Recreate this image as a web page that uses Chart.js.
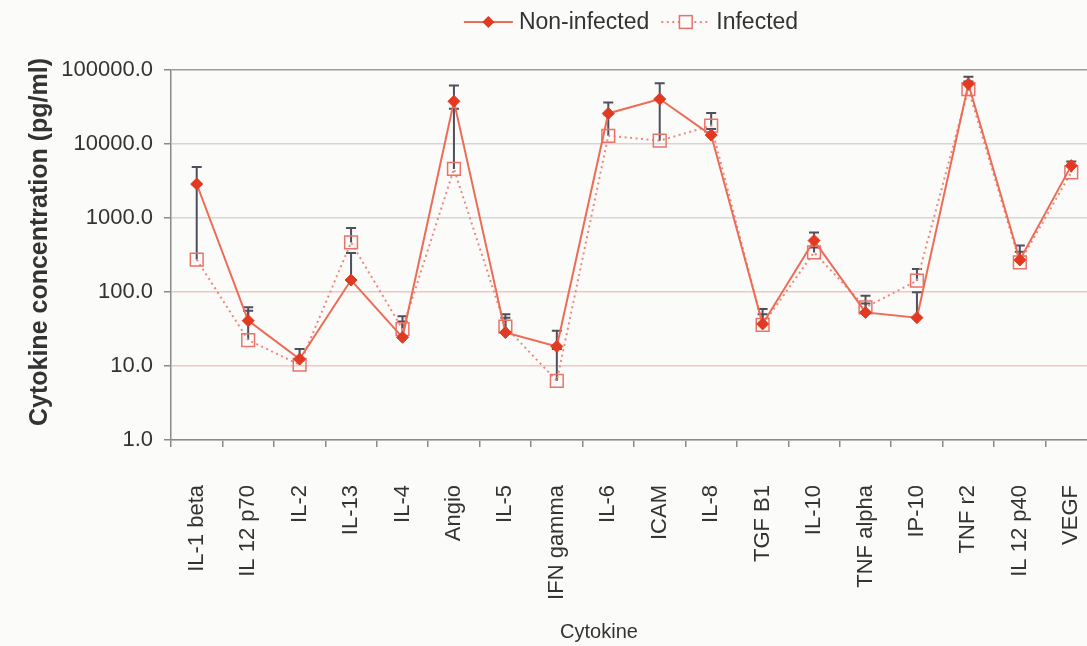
<!DOCTYPE html>
<html>
<head>
<meta charset="utf-8">
<title>Cytokine concentration</title>
<script src="https://cdn.jsdelivr.net/npm/chart.js@4.4.1/dist/chart.umd.min.js"></script>
<style>
html, body { margin: 0; padding: 0; overflow: hidden; background: #fbfbf9; }
#clip { width: 1087px; height: 646px; overflow: hidden; position: relative; }
#chart { display: block; position: absolute; left: 0; top: 0; }
</style>
</head>
<body>
<div id="clip"><canvas id="chart" width="1097" height="646"></canvas></div>
<script>

// cytokines measured in wound fluid
const cytokines = ["IL-1 beta", "IL 12 p70", "IL-2", "IL-13", "IL-4", "Angio", "IL-5", "IFN gamma", "IL-6",
  "ICAM", "IL-8", "TGF B1", "IL-10", "TNF alpha", "IP-10", "TNF r2", "IL 12 p40", "VEGF"]

// mean concentrations, pg/ml
const nonInfected = [2880, 41, 12.4, 145, 24.4, 37700, 28.4, 18.4, 25900, 40500, 13200, 37, 495, 53, 45, 64700, 271, 5100]
const infected = [274, 22.4, 10.4, 468, 31.6, 4600, 34, 6.3, 12900, 11100, 17700, 36, 343, 62, 142, 55000, 251, 4150]

// top of the error bar for each point
const nonInfectedErr = [4900, 62, 17, 336, 40, 61500, 50, 30, 36500, 66000, 16000, 59, 638, 70, 99, 81000, 425, 5800]
const infectedErr = [2800, 56, 12, 733, 47, 30000, 45, 17, 25000, 40000, 26300, 50, 400, 89, 205, 70000, 350, 5000]

const yTicks = [1, 10, 100, 1000, 10000, 100000]

const xTitle = "Cytokine"
const yTitle = "Cytokine concentration (pg/ml)"

const font = '"Liberation Sans", Arial, sans-serif'
const textColor = "#333333"
const axisColor = "#8a8a8a"

const redLine = "rgb(236,108,86)"
const redMarker = "rgb(226,58,34)"
const pinkLine = "rgb(238,135,125)"
const pinkMarker = "rgb(234,115,105)"

const errorBars = {
  id: "errorBars",
  beforeDatasetsDraw(chart) {
    const ctx = chart.ctx
    const xs = chart.scales.x
    const ys = chart.scales.y
    ctx.save()
    ctx.strokeStyle = "#4f4f5d"
    ctx.lineWidth = 2
    const sets = [[nonInfected, nonInfectedErr], [infected, infectedErr]]
    sets.forEach(([vals, tops]) => {
      vals.forEach((v, i) => {
        const px = xs.getPixelForValue(i)
        const y0 = ys.getPixelForValue(v)
        const y1 = ys.getPixelForValue(tops[i])
        ctx.beginPath()
        ctx.moveTo(px, y0)
        ctx.lineTo(px, y1)
        ctx.moveTo(px - 5, y1)
        ctx.lineTo(px + 5, y1)
        ctx.stroke()
      })
    })
    ctx.restore()
  }
}

// axis titles sit where the original layout had them, not centred on the scales
const axisTitles = {
  id: "axisTitles",
  afterDraw(chart) {
    const ctx = chart.ctx
    ctx.save()
    ctx.fillStyle = textColor
    ctx.textAlign = "center"
    ctx.textBaseline = "middle"
    ctx.font = "20px " + font
    ctx.fillText(xTitle, 599, 632)
    ctx.translate(40, 242)
    ctx.rotate(-Math.PI / 2)
    ctx.font = "bold 25px " + font
    ctx.fillText(yTitle, 0, 0)
    ctx.restore()
  }
}

// legend drawn above the plot, line sample with its marker
const sampleLegend = {
  id: "sampleLegend",
  afterDraw(chart) {
    const ctx = chart.ctx
    const sets = chart.data.datasets
    const sample = 49, gap = 6, spacing = 12
    ctx.save()
    ctx.font = "23px " + font
    ctx.textBaseline = "middle"
    let total = 0
    sets.forEach((ds, i) => {
      total += sample + gap + ctx.measureText(ds.label).width
      if (i) total += spacing
    })
    let x = 631 - total / 2
    const y = 22
    sets.forEach(ds => {
      ctx.strokeStyle = ds.borderColor
      ctx.lineWidth = 2
      ctx.setLineDash(ds.borderDash || [])
      ctx.beginPath()
      ctx.moveTo(x, y)
      ctx.lineTo(x + sample, y)
      ctx.stroke()
      ctx.setLineDash([])
      const cx = x + sample / 2
      if (ds.pointStyle === "rectRot") {
        const r = ds.pointRadius
        ctx.fillStyle = ds.pointBackgroundColor
        ctx.beginPath()
        ctx.moveTo(cx, y - r)
        ctx.lineTo(cx + r, y)
        ctx.lineTo(cx, y + r)
        ctx.lineTo(cx - r, y)
        ctx.closePath()
        ctx.fill()
      } else {
        const s = ds.pointRadius * Math.SQRT1_2
        ctx.fillStyle = "#fbfbf9"
        ctx.fillRect(cx - s, y - s, 2 * s, 2 * s)
        ctx.strokeStyle = ds.pointBorderColor
        ctx.lineWidth = ds.pointBorderWidth
        ctx.strokeRect(cx - s, y - s, 2 * s, 2 * s)
      }
      ctx.fillStyle = textColor
      ctx.fillText(ds.label, x + sample + gap, y + 1)
      x += sample + gap + ctx.measureText(ds.label).width + spacing
    })
    ctx.restore()
  }
}

const canvas = document.getElementById("chart")
const ctx = canvas.getContext("2d")

new Chart(ctx, {
  type: "line",
  data: {
    labels: cytokines,
    datasets: [{
      label: "Non-infected",
      data: nonInfected,
      borderColor: redLine,
      borderWidth: 2,
      pointStyle: "rectRot",
      pointRadius: 6,
      pointBackgroundColor: redMarker,
      pointBorderColor: redMarker,
      pointBorderWidth: 1,
      tension: 0
    }, {
      label: "Infected",
      data: infected,
      borderColor: pinkLine,
      borderWidth: 2,
      borderDash: [2, 3.5],
      pointStyle: "rect",
      pointRadius: 9,
      pointBackgroundColor: "rgba(255,255,255,0)",
      pointBorderColor: pinkMarker,
      pointBorderWidth: 1.5,
      tension: 0
    }]
  },
  options: {
    responsive: false,
    animation: false,
    layout: { autoPadding: false, padding: { top: 70, left: 0, right: 0, bottom: 0 } },
    plugins: {
      legend: { display: false },
      tooltip: { enabled: false }
    },
    scales: {
      x: {
        type: "category",
        offset: true,
        grid: { offset: true, drawOnChartArea: false, color: axisColor, tickLength: 7, lineWidth: 1.5 },
        border: { color: axisColor, width: 1.5 },
        ticks: {
          autoSkip: false,
          minRotation: 90,
          maxRotation: 90,
          padding: 38,
          color: textColor,
          font: { family: font, size: 22 }
        },
        afterFit(scale) {
          scale.height = 206
          scale.paddingLeft = 0
          scale.paddingRight = 0
        }
      },
      y: {
        type: "logarithmic",
        min: 1,
        max: 100000,
        afterBuildTicks(scale) { scale.ticks = yTicks.map(v => ({ value: v })) },
        grid: {
          color: c => {
            const v = c.tick ? c.tick.value : 0
            if (v === 100000) return "#9c9c9c"
            if (v === 100 || v === 10) return "#f0c6c2"
            return "#d8d5d5"
          },
          tickColor: axisColor,
          tickLength: 7,
          lineWidth: 1.5
        },
        border: { color: axisColor, width: 1.5 },
        ticks: {
          padding: 11,
          color: textColor,
          font: { family: font, size: 22 },
          callback: v => Number(v).toFixed(1)
        },
        afterFit(scale) { scale.width = 171 }
      }
    }
  },
  plugins: [errorBars, axisTitles, sampleLegend]
})

</script>
</body>
</html>
